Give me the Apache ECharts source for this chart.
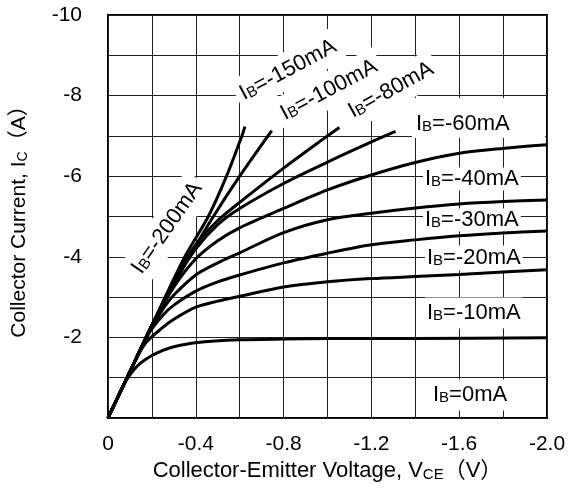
<!DOCTYPE html>
<html>
<head>
<meta charset="utf-8">
<script src="https://cdn.jsdelivr.net/npm/echarts@6.0.0/dist/echarts.min.js"></script>
<style>
html,body{margin:0;padding:0;background:#fff;}
#main{width:570px;height:488px;}
</style>
</head>
<body>
<div id="main"></div>
<script>
// 坐标轴刻度
var xTickLabels = ['0', '-0.4', '-0.8', '-1.2', '-1.6', '-2.0'];
var yTickLabels = ['-2', '-4', '-6', '-8', '-10'];

// 各条 IB 曲线 (VCE, IC)
var ibNames = ['-200mA', '-150mA', '-100mA', '-80mA', '-60mA', '-40mA', '-30mA', '-20mA', '-10mA', '0mA'];

var vce_200 = [0, -0.1, -0.2, -0.35, -0.457, -0.54, -0.61, -0.624];
var ic_200 = [0, -1.15, -2.3, -4.0, -5.0, -6.0, -7.0, -7.23];

var vce_150 = [0, -0.1, -0.2, -0.3, -0.37, -0.48, -0.6, -0.746];
var ic_150 = [0, -1.15, -2.3, -3.3, -4.0, -5.0, -6.0, -7.13];

var vce_100 = [0, -0.1, -0.2, -0.3, -0.4, -0.5, -0.6, -0.8, -1.0, -1.054];
var ic_100 = [0, -1.15, -2.3, -3.4, -4.3, -4.9, -5.35, -6.2, -7.0, -7.21];

var vce_80 = [0, -0.1, -0.2, -0.3, -0.4, -0.5, -0.6, -0.8, -1.0, -1.2, -1.31];
var ic_80 = [0, -1.15, -2.3, -3.35, -4.2, -4.8, -5.2, -5.82, -6.35, -6.85, -7.11];

var vce_60 = [0, -0.1, -0.2, -0.3, -0.4, -0.5, -0.6, -0.8, -1.0, -1.2, -1.4, -1.6, -1.8, -2.0];
var ic_60 = [0, -1.15, -2.3, -3.25, -3.95, -4.4, -4.72, -5.2, -5.66, -6.03, -6.34, -6.57, -6.69, -6.78];

var vce_40 = [0, -0.1, -0.2, -0.25, -0.3, -0.4, -0.5, -0.6, -0.8, -1.0, -1.2, -1.4, -1.6, -1.8, -2.0];
var ic_40 = [0, -1.15, -2.25, -2.7, -3.05, -3.55, -3.85, -4.1, -4.6, -4.92, -5.08, -5.21, -5.31, -5.37, -5.41];

var vce_30 = [0, -0.1, -0.18, -0.25, -0.3, -0.4, -0.5, -0.6, -0.8, -1.0, -1.2, -1.4, -1.6, -1.8, -2.0];
var ic_30 = [0, -1.15, -2.05, -2.55, -2.8, -3.15, -3.38, -3.55, -3.85, -4.09, -4.3, -4.42, -4.52, -4.59, -4.64];

var vce_20 = [0, -0.1, -0.17, -0.25, -0.3, -0.4, -0.5, -0.6, -0.8, -1.0, -1.2, -1.4, -1.6, -1.8, -2.0];
var ic_20 = [0, -1.15, -1.85, -2.25, -2.45, -2.75, -2.9, -3.02, -3.25, -3.38, -3.46, -3.51, -3.56, -3.62, -3.68];

var vce_10 = [0, -0.05, -0.08, -0.1, -0.12, -0.15, -0.2, -0.25, -0.3, -0.4, -0.6, -0.8, -1.0, -1.4, -2.0];
var ic_10 = [0, -0.57, -0.9, -1.07, -1.21, -1.37, -1.55, -1.68, -1.77, -1.87, -1.94, -1.96, -1.97, -1.97, -1.99];

var curves = [
	[vce_200, ic_200], [vce_150, ic_150], [vce_100, ic_100], [vce_80, ic_80],
	[vce_60, ic_60], [vce_40, ic_40], [vce_30, ic_30], [vce_20, ic_20], [vce_10, ic_10]
];

var FONT = '"Liberation Sans", Arial, "Noto Sans CJK SC", sans-serif';

function pairs(xs, ys) {
	var out = [];
	for(var i = 0; i < xs.length; i++) {
		out.push([xs[i], ys[i]]);
	}
	return out;
}

var seriesList = [];
for(var k = 0; k < curves.length; k++) {
	seriesList.push({
		type: 'line',
		data: pairs(curves[k][0], curves[k][1]),
		smooth: 0.3,
		symbol: 'none',
		silent: true,
		lineStyle: {
			color: '#000',
			width: 3
		},
		z: 2
	});
}

// 曲线标注: 名称, x, y, 旋转角度, 对齐, 白底留边
var labelPos = [
	[0, 167, 228, 55, 'center', [7, 5]],
	[1, 288, 70, 28, 'center', [7, 5]],
	[2, 329, 90, 28, 'center', [7, 5]],
	[3, 391, 90, 29, 'center', [7, 5]],
	[4, 414, 124, 0, 'left', [2, 2]],
	[5, 423, 179, 0, 'left', [1, 2]],
	[6, 423, 220, 0, 'left', [1, 2]],
	[7, 425, 258, 0, 'left', [2, 2]],
	[8, 425, 313, 0, 'left', [5, 2]],
	[9, 431, 395, 0, 'left', [5, 2]]
];

// -60mA 标注后面的白底
var graphics = [{
	type: 'rect',
	z: 1,
	silent: true,
	shape: { x: 412, y: 98, width: 133, height: 40 },
	style: { fill: '#fff' }
}];
for(var j = 0; j < labelPos.length; j++) {
	var p = labelPos[j];
	graphics.push({
		type: 'text',
		x: p[1],
		y: p[2],
		rotation: p[3] * Math.PI / 180,
		z: 1,
		silent: true,
		style: {
			text: '{a|I}{b|B}{a|=' + ibNames[p[0]] + '}',
			align: p[4],
			verticalAlign: 'middle',
			backgroundColor: '#fff',
			padding: p[5],
			rich: {
				a: { fontSize: 22, lineHeight: 21, fontFamily: FONT, fill: '#000' },
				b: { fontSize: 15, lineHeight: 15, fontFamily: FONT, fill: '#000', verticalAlign: 'bottom' }
			}
		}
	});
}

var myChart = echarts.init(document.getElementById('main'));
var option = {
	animation: false,
	backgroundColor: '#fff',
	grid: {
		left: 108,
		right: 23,
		top: 15,
		bottom: 70,
		show: true,
		borderColor: '#000',
		borderWidth: 2,
		backgroundColor: '#fff'
	},
	xAxis: {
		type: 'value',
		min: -2,
		max: 0,
		interval: 0.2,
		inverse: true,
		name: '{n|Collector-Emitter Voltage, V}{s|CE}{n|（V）}',
		nameLocation: 'middle',
		nameGap: 40,
		nameTextStyle: {
			rich: {
				n: { fontSize: 22, fontFamily: FONT, color: '#000' },
				s: { fontSize: 15, fontFamily: FONT, color: '#000', verticalAlign: 'bottom', lineHeight: 16 }
			}
		},
		axisLine: { show: false },
		axisTick: { show: false },
		splitLine: { show: true, lineStyle: { color: '#222', width: 1 } },
		axisLabel: {
			fontSize: 21,
			fontFamily: FONT,
			color: '#000',
			margin: 16,
			formatter: function(v) {
				var s = Math.abs(v) < 1e-9 ? '0' : v.toFixed(1);
				return xTickLabels.indexOf(s) >= 0 ? s : '';
			}
		}
	},
	yAxis: {
		type: 'value',
		min: -10,
		max: 0,
		interval: 1,
		inverse: true,
		name: '{n|Collector Current, I}{s|C}{n|（A）}',
		nameLocation: 'middle',
		nameGap: 78,
		nameTextStyle: {
			rich: {
				n: { fontSize: 21, fontFamily: FONT, color: '#000' },
				s: { fontSize: 14, fontFamily: FONT, color: '#000', verticalAlign: 'bottom', lineHeight: 16 }
			}
		},
		axisLine: { show: false },
		axisTick: { show: false },
		splitLine: { show: true, lineStyle: { color: '#222', width: 1 } },
		axisLabel: {
			fontSize: 21,
			fontFamily: FONT,
			color: '#000',
			margin: 26,
			padding: [8, 0, 0, 0],
			formatter: function(v) {
				var s = String(Math.round(v));
				return yTickLabels.indexOf(s) >= 0 ? s : '';
			}
		}
	},
	graphic: graphics,
	series: seriesList
};
myChart.setOption(option);
</script>
</body>
</html>
